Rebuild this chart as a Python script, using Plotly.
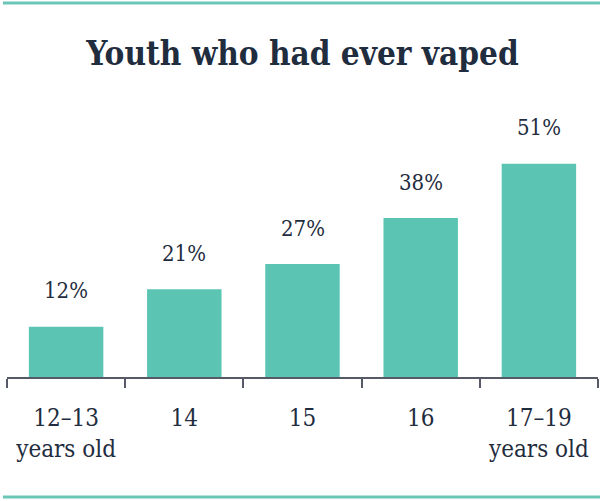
import plotly.graph_objects as go

categories = ["12–13<br>years old", "14", "15", "16", "17–19<br>years old"]
values = [12, 21, 27, 38, 51]
value_labels = ["12%", "21%", "27%", "38%", "51%"]

TEAL = "#5bc4b3"
LINE_TEAL = "#6cc6b7"
DARK = "#1f2d3e"
AXIS = "#565a66"
FONT = "DejaVu Serif Condensed, DejaVu Serif, serif"

fig = go.Figure()
fig.add_trace(go.Bar(
    x=categories, y=values,
    marker=dict(color=TEAL, line=dict(width=0)),
    width=0.63,
    hoverinfo="skip",
))

for i, (v, t) in enumerate(zip(values, value_labels)):
    fig.add_annotation(x=i, y=v, text=t, showarrow=False,
                       xref="x", yref="y",
                       yanchor="middle", yshift=36,
                       font=dict(family=FONT, size=22, color=DARK))

# teal rules top and bottom
fig.add_shape(type="line", xref="paper", yref="paper",
              x0=-0.0068, x1=1.0034, y0=1.490, y1=1.490,
              line=dict(color=LINE_TEAL, width=3))
fig.add_shape(type="line", xref="paper", yref="paper",
              x0=-0.0068, x1=1.0034, y0=-0.478, y1=-0.478,
              line=dict(color=LINE_TEAL, width=3))

fig.update_layout(
    width=605, height=501,
    margin=dict(l=7, r=7, t=126, b=124),
    paper_bgcolor="white", plot_bgcolor="white",
    showlegend=False,
    title=dict(text="<b>Youth who had ever vaped</b>", x=0.5, xanchor="center",
               y=1 - 53 / 501, yanchor="middle",
               font=dict(family=FONT, size=33, color=DARK)),
    font=dict(family=FONT, color=DARK),
    bargap=0.37,
)
fig.update_xaxes(
    type="category", range=[-0.5, 4.5],
    showline=True, linecolor=AXIS, linewidth=2,
    ticks="outside", tickson="boundaries", ticklen=9, tickwidth=2, tickcolor=AXIS,
    tickfont=dict(family=FONT, size=24, color=DARK),
    ticklabelstandoff=18,
    showgrid=False, zeroline=False, fixedrange=True,
)
fig.update_yaxes(range=[0, 60], visible=False, showgrid=False, zeroline=False, fixedrange=True)

fig.write_html("out.html")
